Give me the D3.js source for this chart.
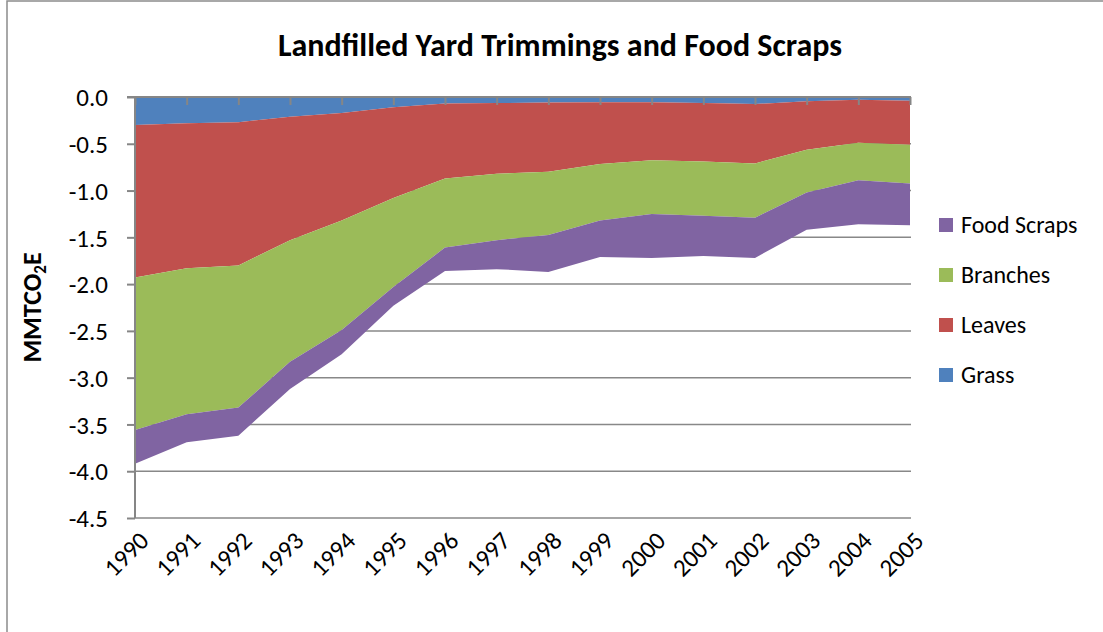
<!DOCTYPE html>
<html>
<head>
<meta charset="utf-8">
<script src="https://cdn.jsdelivr.net/npm/d3@7"></script>
<style>
  html, body { margin: 0; padding: 0; background: #ffffff; }
  svg { display: block; }
  text { font-family: Calibri, Carlito, Lato, "Noto Sans", sans-serif; fill: #000; }
</style>
</head>
<body>
<svg id="chart" width="1103" height="632"></svg>
<script>
// Landfilled yard trimmings and food scraps, MMTCO2E by year
const years = ["1990","1991","1992","1993","1994","1995","1996","1997",
               "1998","1999","2000","2001","2002","2003","2004","2005"];
const grass    = [-0.30,-0.28,-0.27,-0.21,-0.17,-0.11,-0.07,-0.065,-0.06,-0.055,-0.055,-0.065,-0.075,-0.045,-0.03,-0.04];
const leaves   = [-1.63,-1.55,-1.53,-1.32,-1.15,-0.97,-0.80,-0.755,-0.74,-0.66,-0.62,-0.625,-0.635,-0.52,-0.46,-0.47];
const branches = [-1.63,-1.56,-1.52,-1.30,-1.17,-0.95,-0.74,-0.71,-0.675,-0.605,-0.575,-0.58,-0.58,-0.455,-0.40,-0.415];
const food     = [-0.36,-0.30,-0.30,-0.29,-0.26,-0.20,-0.25,-0.31,-0.395,-0.39,-0.47,-0.43,-0.43,-0.40,-0.47,-0.445];
const yTicks   = [0,-0.5,-1,-1.5,-2,-2.5,-3,-3.5,-4,-4.5];

const seriesNames  = ["Grass","Leaves","Branches","Food Scraps"];
const seriesValues = [grass, leaves, branches, food];
const colors = ["#4F81BD","#C0504D","#9BBB59","#8064A2"];

const rows = years.map((yr, i) => {
  const r = { year: yr };
  seriesNames.forEach((k, j) => r[k] = seriesValues[j][i]);
  return r;
});

const svg = d3.select("#chart");
const plot = { left: 135, right: 910, top: 97, bottom: 518 };

const x = d3.scalePoint().domain(years).range([plot.left, plot.right]);
const y = d3.scaleLinear().domain([0, -4.5]).range([plot.top, plot.bottom]);

// chart frame
svg.append("rect")
  .attr("x", 7).attr("y", 1).attr("width", 1120).attr("height", 660)
  .attr("fill", "none").attr("stroke", "#8c8c8c").attr("stroke-width", 1.5);

// horizontal gridlines (behind the areas)
svg.append("g").selectAll("line")
  .data(yTicks.filter(v => v !== 0))
  .join("line")
  .attr("x1", plot.left).attr("x2", plot.right + 1)
  .attr("y1", d => y(d)).attr("y2", d => y(d))
  .attr("stroke", "#888888").attr("stroke-width", 1.5);

// stacked areas, negatives growing downward from zero
const stack = d3.stack().keys(seriesNames).offset(d3.stackOffsetDiverging);
const layers = stack(rows);

const area = d3.area()
  .x(d => x(d.data.year))
  .y0(d => y(d[0]))
  .y1(d => y(d[1]));

svg.append("g").selectAll("path")
  .data(layers)
  .join("path")
  .attr("d", area)
  .attr("fill", (d, i) => colors[i]);

// value axis (left)
const yAxis = d3.axisLeft(y).tickValues(yTicks).tickSize(8)
  .tickFormat(d => d.toFixed(1));
const gy = svg.append("g").attr("transform", `translate(${plot.left},0)`).call(yAxis);
gy.select(".domain").attr("stroke", "#868686").attr("stroke-width", 2)
  .attr("d", `M-8,${plot.top}H0V${plot.bottom}`);
gy.selectAll(".tick line").attr("stroke", "#868686").attr("stroke-width", 2);
gy.selectAll(".tick text")
  .style("font-size", "25px")
  .attr("dy", "0.35em")
  .attr("x", -27);

// category axis along the zero line, ticks pointing into the plot
const xAxis = d3.axisBottom(x).tickSize(8).tickFormat("");
const gx = svg.append("g").attr("transform", `translate(0,${y(0)})`).call(xAxis);
gx.select(".domain").attr("stroke", "#868686").attr("stroke-width", 2)
  .attr("d", `M${plot.left},0H${plot.right + 1}`);
gx.selectAll(".tick line").attr("stroke", "#868686").attr("stroke-width", 2);

// year labels below the plot, rotated
svg.append("g").selectAll("text")
  .data(years)
  .join("text")
  .attr("transform", d => `translate(${x(d) + 9},${plot.bottom + 18}) rotate(-45)`)
  .attr("text-anchor", "end")
  .attr("dy", "0.35em")
  .style("font-size", "25px")
  .text(d => d);

// title
svg.append("text")
  .attr("x", 560).attr("y", 56)
  .attr("text-anchor", "middle")
  .style("font-size", "32px").style("font-weight", "bold")
  .text("Landfilled Yard Trimmings and Food Scraps");

// value axis title
const yt = svg.append("text")
  .attr("transform", `translate(41,${(plot.top + plot.bottom) / 2}) rotate(-90)`)
  .attr("text-anchor", "middle")
  .style("font-size", "26px").style("font-weight", "bold");
yt.append("tspan").text("MMTCO");
yt.append("tspan").attr("dy", "0.3em").style("font-size", "17px").text("2");
yt.append("tspan").attr("dy", "-0.2em").text("E");

// legend, listed bottom series first
const legendOrder = [3, 2, 1, 0];
const lg = svg.append("g").selectAll("g")
  .data(legendOrder)
  .join("g")
  .attr("transform", (d, i) => `translate(939,${225 + i * 50})`);
lg.append("rect").attr("x", 0).attr("y", -7).attr("width", 14).attr("height", 14)
  .attr("fill", d => colors[d]);
lg.append("text").attr("x", 22).attr("dy", "0.35em")
  .style("font-size", "24px")
  .text(d => seriesNames[d]);
</script>
</body>
</html>
